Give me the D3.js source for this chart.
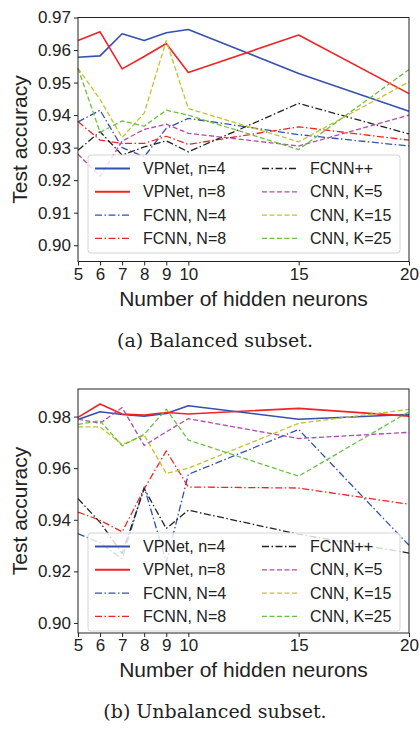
<!DOCTYPE html>
<html>
<head>
<meta charset="utf-8">
<script src="https://cdn.jsdelivr.net/npm/d3@7"></script>
<style>
  body { margin: 0; background: #fff; }
  svg { display: block; }
  .tick text { font-family: "Liberation Sans", Arial, sans-serif; font-size: 17px; fill: #222; }
  .axisTitle { font-family: "Liberation Sans", Arial, sans-serif; font-size: 21px; fill: #222; }
  .legendText { font-family: "Liberation Sans", Arial, sans-serif; font-size: 16px; fill: #222; }
  .caption { font-family: "DejaVu Serif", "Liberation Serif", serif; font-size: 19px; fill: #222; }
</style>
</head>
<body>
<div id="chart"></div>
<script>
// two panels: test accuracy vs number of hidden neurons
var svgWidth = 420;
var svgHeight = 730;

// x values
var neurons = [5, 6, 7, 8, 9, 10, 15, 20];
var xTicks = [5, 6, 7, 8, 9, 10, 15, 20];

// (a) balanced subset
var vpnet4Bal  = [0.9578, 0.9582, 0.9650, 0.9629, 0.9653, 0.9663, 0.9528, 0.9412];
var vpnet8Bal  = [0.9629, 0.9656, 0.9542, 0.9580, 0.9620, 0.9531, 0.9646, 0.9466];
var fcnn4Bal   = [0.9379, 0.9415, 0.9300, 0.9272, 0.9359, 0.9390, 0.9340, 0.9305];
var fcnn8Bal   = [0.9380, 0.9323, 0.9313, 0.9313, 0.9335, 0.9310, 0.9364, 0.9323];
var fcnnppBal  = [0.9292, 0.9349, 0.9277, 0.9302, 0.9321, 0.9287, 0.9436, 0.9342];
var cnn5Bal    = [0.9280, 0.9212, 0.9320, 0.9356, 0.9372, 0.9344, 0.9305, 0.9400];
var cnn15Bal   = [0.9544, 0.9448, 0.9331, 0.9406, 0.9629, 0.9420, 0.9318, 0.9502];
var cnn25Bal   = [0.9544, 0.9347, 0.9382, 0.9366, 0.9415, 0.9400, 0.9294, 0.9540];
var yTicksBal  = [0.90, 0.91, 0.92, 0.93, 0.94, 0.95, 0.96, 0.97];

// (b) unbalanced subset
var vpnet4Unb  = [0.9789, 0.9819, 0.9808, 0.9802, 0.9812, 0.9842, 0.9790, 0.9808];
var vpnet8Unb  = [0.9797, 0.9849, 0.9810, 0.9806, 0.9816, 0.9810, 0.9832, 0.9802];
var fcnn4Unb   = [0.9346, 0.9310, 0.9249, 0.9527, 0.9236, 0.9576, 0.9750, 0.9301];
var fcnn8Unb   = [0.9430, 0.9398, 0.9353, 0.9520, 0.9667, 0.9527, 0.9523, 0.9460];
var fcnnppUnb  = [0.9482, 0.9390, 0.9269, 0.9521, 0.9366, 0.9437, 0.9344, 0.9271];
var cnn5Unb    = [0.9790, 0.9774, 0.9835, 0.9688, 0.9741, 0.9792, 0.9715, 0.9739];
var cnn15Unb   = [0.9760, 0.9760, 0.9692, 0.9728, 0.9580, 0.9600, 0.9774, 0.9828];
var cnn25Unb   = [0.9770, 0.9784, 0.9687, 0.9731, 0.9829, 0.9709, 0.9569, 0.9819];
var yTicksUnb  = [0.90, 0.92, 0.94, 0.96, 0.98];

var seriesNames = ['VPNet, n=4', 'VPNet, n=8', 'FCNN, N=4', 'FCNN, N=8',
                   'FCNN++', 'CNN, K=5', 'CNN, K=15', 'CNN, K=25'];

// line styles, same order as seriesNames
var styles = [
  {color: '#3550b0', dash: null, width: 1.6},
  {color: '#f02424', dash: null, width: 1.6},
  {color: '#3550b0', dash: '7,2.5,1.5,2.5', width: 1.3},
  {color: '#f02424', dash: '7,2.5,1.5,2.5', width: 1.3},
  {color: '#222222', dash: '7,2.5,1.5,2.5', width: 1.3},
  {color: '#b04ab0', dash: '5,2.5', width: 1.3},
  {color: '#c4c22e', dash: '5,2.5', width: 1.3},
  {color: '#6ac040', dash: '5,2.5', width: 1.3}
];

var svg = d3.select('#chart')
  .append('svg')
  .attr('width', svgWidth)
  .attr('height', svgHeight);

function drawPanel(opt) {
  var x = d3.scaleLinear().domain([5, 20]).range([78, 409]);
  var y = d3.scaleLinear().domain(opt.yDomain).range([opt.bottom, opt.top]);

  var g = svg.append('g');

  // axes
  var yAxis = g.append('g')
    .attr('transform', 'translate(78,0)')
    .call(d3.axisLeft(y).tickValues(opt.yTicks).tickFormat(d3.format('.2f')).tickSize(4).tickPadding(3));
  var xAxis = g.append('g')
    .attr('transform', `translate(0,${opt.bottom})`)
    .call(d3.axisBottom(x).tickValues(xTicks).tickFormat(d3.format('d')).tickSize(4).tickPadding(2));
  [xAxis, yAxis].forEach(function(a) {
    a.select('.domain').remove();
    a.selectAll('.tick line').attr('stroke', '#222').attr('stroke-width', 1);
  });

  // lines
  var line = d3.line()
    .x((d, i) => x(neurons[i]))
    .y(d => y(d));

  opt.series.forEach(function(s, i) {
    g.append('path')
      .datum(s)
      .attr('d', line)
      .attr('fill', 'none')
      .attr('stroke', styles[i].color)
      .attr('stroke-width', styles[i].width)
      .attr('stroke-dasharray', styles[i].dash)
      .attr('stroke-linejoin', 'round');
  });

  // frame
  g.append('rect')
    .attr('x', 78).attr('y', opt.top)
    .attr('width', 409 - 78).attr('height', opt.bottom - opt.top)
    .attr('fill', 'none').attr('stroke', '#222').attr('stroke-width', 1);

  // legend
  var lg = g.append('g').attr('transform', `translate(88,${opt.legendTop})`);
  lg.append('rect')
    .attr('width', 312).attr('height', 98)
    .attr('rx', 3)
    .attr('fill', 'white').attr('fill-opacity', 0.8)
    .attr('stroke', '#d4d4d4').attr('stroke-width', 1);
  seriesNames.forEach(function(name, i) {
    var col = Math.floor(i / 4);
    var row = i % 4;
    var ex = col === 0 ? 7 : 174;
    var ey = 13.5 + row * 23.3;
    lg.append('line')
      .attr('x1', ex).attr('x2', ex + 35)
      .attr('y1', ey).attr('y2', ey)
      .attr('stroke', styles[i].color)
      .attr('stroke-width', styles[i].dash ? 1.3 : 2)
      .attr('stroke-dasharray', styles[i].dash);
    lg.append('text')
      .attr('class', 'legendText')
      .attr('x', ex + 48).attr('y', ey)
      .attr('dy', '0.35em')
      .text(name);
  });

  // axis titles
  g.append('text')
    .attr('class', 'axisTitle')
    .attr('transform', `translate(27,${(opt.top + opt.bottom) / 2}) rotate(-90)`)
    .attr('text-anchor', 'middle')
    .text('Test accuracy');
  g.append('text')
    .attr('class', 'axisTitle')
    .attr('x', (78 + 409) / 2).attr('y', opt.bottom + 44)
    .attr('text-anchor', 'middle')
    .text('Number of hidden neurons');

  // caption
  g.append('text')
    .attr('class', 'caption')
    .attr('x', 215).attr('y', opt.bottom + 85)
    .attr('text-anchor', 'middle')
    .text(opt.caption);
}

drawPanel({
  top: 17.5, bottom: 261.5, legendTop: 155,
  yDomain: [0.895, 0.97], yTicks: yTicksBal,
  series: [vpnet4Bal, vpnet8Bal, fcnn4Bal, fcnn8Bal, fcnnppBal, cnn5Bal, cnn15Bal, cnn25Bal],
  caption: '(a) Balanced subset.'
});

drawPanel({
  top: 389, bottom: 633, legendTop: 533,
  yDomain: [0.8961, 0.9907], yTicks: yTicksUnb,
  series: [vpnet4Unb, vpnet8Unb, fcnn4Unb, fcnn8Unb, fcnnppUnb, cnn5Unb, cnn15Unb, cnn25Unb],
  caption: '(b) Unbalanced subset.'
});
</script>
</body>
</html>
